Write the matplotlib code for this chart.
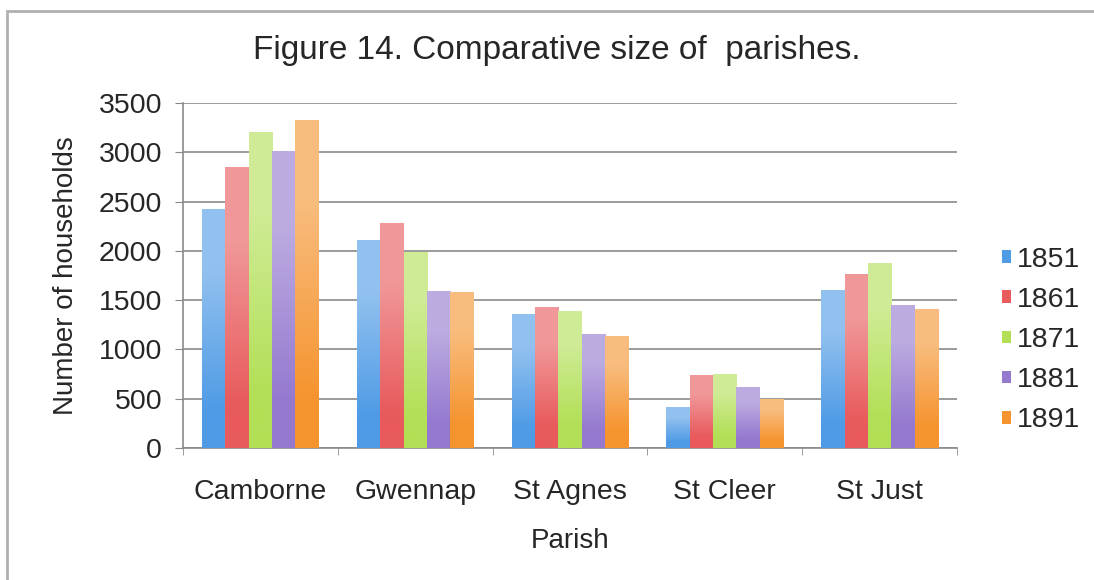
import numpy as np
import matplotlib
matplotlib.use('Agg')
import matplotlib.pyplot as plt
from matplotlib.colors import to_rgb
from matplotlib.patches import Rectangle

parishes = ['Camborne', 'Gwennap', 'St Agnes', 'St Cleer', 'St Just']
years = ['1851', '1861', '1871', '1881', '1891']
h1851 = [2420, 2115, 1355, 415, 1600]
h1861 = [2850, 2285, 1430, 740, 1770]
h1871 = [3210, 1990, 1390, 750, 1880]
h1881 = [3015, 1590, 1160, 620, 1455]
h1891 = [3330, 1585, 1135, 500, 1415]
colors = ['#4f9be6', '#e85a5c', '#b2df55', '#9479cf', '#f5942f']


def main():
    plt.rcParams['font.family'] = ['Liberation Sans', 'DejaVu Sans']
    fig = plt.figure(figsize=(10.94, 5.8), dpi=100)
    ax = fig.add_axes([183 / 1094, 1 - 448 / 580, 774 / 1094, 345 / 580])

    series = [h1851, h1861, h1871, h1881, h1891]
    x = np.arange(len(parishes))
    w = 0.151
    for i, vals in enumerate(series):
        pos = x - 2 * w + i * w
        bars = ax.bar(pos, vals, width=w, color=colors[i], label=years[i], zorder=3)
        # vertical gradient: lighter at the top
        for b in bars:
            x0, y0 = b.get_x(), b.get_y()
            bw, bh = b.get_width(), b.get_height()
            t = np.linspace(0, 1, 64)[:, None]
            k = 0.38 * np.clip((t - 0.15) / 0.6, 0, 1)
            base = np.array(to_rgb(colors[i]))
            img = base + (1 - base) * k[..., None]
            img = np.repeat(img, 8, axis=1)
            im = ax.imshow(img, extent=(x0, x0 + bw, y0, y0 + bh), origin='lower',
                           aspect='auto', zorder=4, interpolation='bilinear')
            im.set_clip_path(b)

    ax.set_xlim(-0.5, len(parishes) - 0.5)
    ax.set_ylim(0, 3500)
    ax.set_yticks(range(0, 3501, 500))
    ax.set_xticks(x)
    ax.set_xticklabels(parishes)
    ax.set_xticks(np.arange(-0.5, len(parishes), 1), minor=True)
    ax.tick_params(axis='x', which='major', length=0, pad=22, labelsize=20.5, colors='#262626')
    ax.tick_params(axis='x', which='minor', length=5, color='#888888')
    ax.tick_params(axis='y', length=6, color='#888888', labelsize=20.5, labelcolor='#262626', pad=9)
    ax.yaxis.grid(True, color='#8a8a8a', linewidth=1.2, zorder=0)
    for s in ['top', 'right']:
        ax.spines[s].set_visible(False)
    for s in ['left', 'bottom']:
        ax.spines[s].set_color('#8a8a8a')
        ax.spines[s].set_linewidth(1.2)

    ax.set_xlabel('Parish', fontsize=20, color='#262626', labelpad=17)
    ax.set_ylabel('Number of households', fontsize=20, color='#262626', labelpad=14)
    fig.text(557 / 1094, 1 - 50 / 580, 'Figure 14. Comparative size of  parishes.',
             ha='center', va='center', fontsize=24, color='#262626')

    leg = ax.legend(loc='center left', bbox_to_anchor=(1.058, 0.313), frameon=False,
                    fontsize=20.5, handlelength=0.32, handleheight=0.3,
                    handletextpad=0.2, labelspacing=0.5, borderaxespad=0, borderpad=0)
    for t in leg.get_texts():
        t.set_color('#262626')

    # outer frame
    fig.patches.append(Rectangle((7 / 1094, -0.1), 1.2, 1 - 11 / 580 + 0.1,
                                 transform=fig.transFigure, fill=False,
                                 edgecolor='#b0b0b0', linewidth=2))

    fig.savefig('out.png', dpi=100)


if __name__ == '__main__':
    main()
